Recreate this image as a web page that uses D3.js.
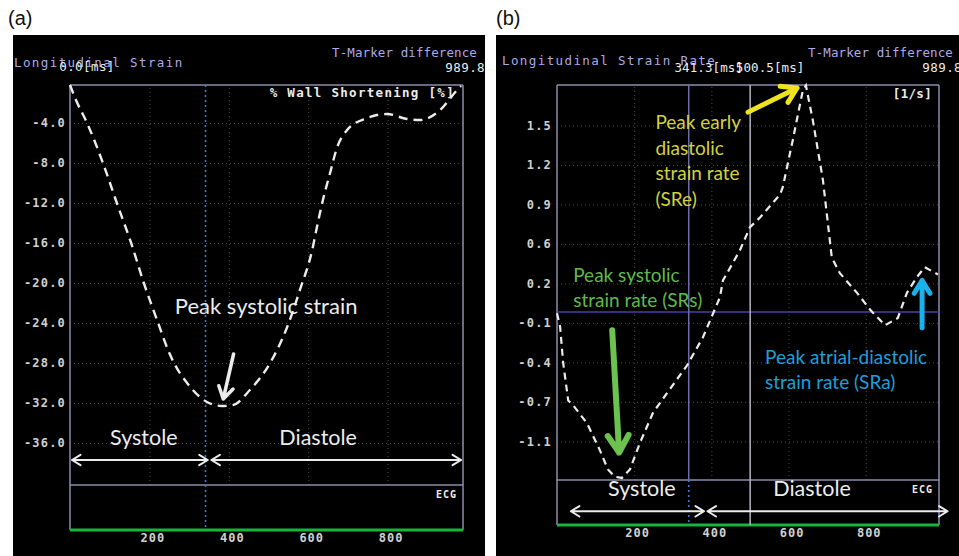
<!DOCTYPE html>
<html>
<head>
<meta charset="utf-8">
<script src="https://cdn.jsdelivr.net/npm/d3@7"></script>
<style>
body { margin: 0; background: #fff; }
svg { display: block; }
.mono { font-family: "DejaVu Sans Mono", monospace; }
.note { font-family: Lato, "Open Sans", sans-serif; }
</style>
</head>
<body>
<svg id="fig" width="959" height="556"></svg>
<script>
// (a) longitudinal strain [%] over time [ms]
var strainTime  = [0, 15, 43, 83, 118, 154, 186, 222, 247, 262, 295, 345, 383, 411, 453, 504, 547, 579, 610, 622, 637, 655, 673, 698, 748, 798, 849, 882, 932, 975, 985]
var strainValue = [-0.2, -1.7, -4.0, -8.0, -12.0, -16.0, -20.0, -24.0, -26.7, -28.0, -30.0, -31.9, -32.3, -32.2, -30.7, -28.0, -24.4, -20.7, -16.7, -14.4, -11.7, -9.0, -6.4, -4.7, -3.5, -3.1, -3.6, -3.7, -2.7, -0.7, -0.3]
var strainTicks = [-4, -8, -12, -16, -20, -24, -28, -32, -36]
var strainTickLabels = ["-4.0", "-8.0", "-12.0", "-16.0", "-20.0", "-24.0", "-28.0", "-32.0", "-36.0"]

// (b) longitudinal strain rate [1/s] over time [ms]
var rateTime  = [0, 8, 16, 29, 42, 78, 111, 132, 150, 168, 189, 215, 249, 285, 337, 378, 422, 430, 474, 500, 526, 578, 585, 611, 637, 645, 663, 689, 712, 733, 777, 811, 850, 883, 907, 933, 953, 987]
var rateValue = [-0.01, -0.12, -0.42, -0.73, -0.77, -0.92, -1.14, -1.30, -1.36, -1.37, -1.30, -1.08, -0.83, -0.67, -0.44, -0.21, 0.12, 0.26, 0.51, 0.70, 0.78, 0.97, 1.03, 1.42, 1.83, 1.87, 1.58, 1.09, 0.45, 0.32, 0.16, 0.02, -0.11, -0.05, 0.16, 0.29, 0.37, 0.31]
var rateTicks = [1.54, 1.214, 0.888, 0.562, 0.236, -0.09, -0.416, -0.742, -1.068]
var rateTickLabels = ["1.5", "1.2", "0.9", "0.6", "0.2", "-0.1", "-0.4", "-0.7", "-1.1"]

var timeTicks = [200, 400, 600, 800]
var cycleLength = 989.8
var markerA = [0.0]
var markerB = [341.3, 500.5]

var FRAME = "#8c8cae", GRID = "#4a4a4a", WHITE = "#ececec"
var svg = d3.select("#fig")

svg.append("rect").attr("x", 13).attr("y", 35).attr("width", 472).attr("height", 521).attr("fill", "#000")
svg.append("rect").attr("x", 496).attr("y", 35).attr("width", 463).attr("height", 521).attr("fill", "#000")

svg.append("text").attr("x", 8).attr("y", 25).text("(a)")
  .style("font-family", "Liberation Sans, Arial, sans-serif").style("font-size", "20px").attr("fill", "#111")
svg.append("text").attr("x", 496).attr("y", 25).text("(b)")
  .style("font-family", "Liberation Sans, Arial, sans-serif").style("font-size", "20px").attr("fill", "#111")

// arrow with open chevron head(s)
function arrow(g, x1, y1, x2, y2, color, w, head, both) {
  var a = Math.atan2(y2 - y1, x2 - x1)
  var sp = 0.55
  function chev(x, y, ang) {
    return "M" + (x - head * Math.cos(ang - sp)) + "," + (y - head * Math.sin(ang - sp)) +
      "L" + x + "," + y +
      "L" + (x - head * Math.cos(ang + sp)) + "," + (y - head * Math.sin(ang + sp))
  }
  var d = "M" + x1 + "," + y1 + "L" + x2 + "," + y2 + chev(x2, y2, a)
  if (both) d += chev(x1, y1, a + Math.PI)
  g.append("path").attr("d", d).attr("fill", "none").attr("stroke", color)
    .attr("stroke-width", w).attr("stroke-linecap", "round").attr("stroke-linejoin", "round")
}

function monoText(g, x, y, txt, opts) {
  var t = g.append("text").attr("class", "mono").attr("x", x).attr("y", y).text(txt)
    .attr("fill", opts.color || WHITE)
    .style("font-size", (opts.size || 12) + "px")
    .style("font-weight", opts.bold ? "bold" : "normal")
    .style("letter-spacing", (opts.ls || 0) + "px")
    .attr("text-anchor", opts.anchor || "start")
  return t
}

function drawPanel(p) {
  var g = svg.append("g")
  var x = p.x, y = p.y
  var L = x.range()[0], R = x.range()[1]

  // grid
  g.append("g").attr("transform", "translate(0," + p.ecgBottom + ")")
    .call(d3.axisBottom(x).tickValues(timeTicks).tickSize(-(p.ecgBottom - p.top)).tickFormat(""))
    .call(s => s.select(".domain").remove())
    .selectAll("line").attr("stroke", GRID).attr("stroke-dasharray", "1,3")
  g.append("g").attr("transform", "translate(" + L + ",0)")
    .call(d3.axisLeft(y).tickValues(p.ticks).tickSize(-(R - L)).tickFormat(""))
    .call(s => s.select(".domain").remove())
    .selectAll("line").attr("stroke", GRID).attr("stroke-dasharray", "1,3")

  // y labels
  var ya = g.append("g").attr("transform", "translate(" + L + ",0)")
    .call(d3.axisLeft(y).tickValues(p.ticks).tickSize(0).tickPadding(p.pad)
      .tickFormat((d, i) => p.labels[i]))
  ya.select(".domain").remove()
  ya.selectAll("text").attr("class", "mono").attr("fill", "#d0d0d0")
    .style("font-size", "12px").style("font-weight", "bold").style("letter-spacing", "1.2px")

  // x labels
  var xa = g.append("g").attr("transform", "translate(3," + p.green + ")")
    .call(d3.axisBottom(x).tickValues(timeTicks).tickSize(0).tickPadding(3))
  xa.select(".domain").remove()
  xa.selectAll("text").attr("class", "mono").attr("fill", "#d0d0d0")
    .style("font-size", "12px").style("font-weight", "bold").style("letter-spacing", "1px")

  // frame
  g.append("line").attr("x1", L).attr("x2", R).attr("y1", p.top).attr("y2", p.top).attr("stroke", FRAME).attr("stroke-width", 1.5)
  g.append("line").attr("x1", L).attr("x2", R).attr("y1", p.ecgBottom).attr("y2", p.ecgBottom).attr("stroke", FRAME).attr("stroke-width", 1.5)
  g.append("line").attr("x1", L).attr("x2", L).attr("y1", p.top).attr("y2", p.green).attr("stroke", FRAME).attr("stroke-width", 1.5)
  g.append("line").attr("x1", R).attr("x2", R).attr("y1", p.top).attr("y2", p.green).attr("stroke", FRAME).attr("stroke-width", 1.5)
  g.append("line").attr("x1", L).attr("x2", R).attr("y1", p.green).attr("y2", p.green).attr("stroke", "#19b43c").attr("stroke-width", 3)

  monoText(g, R - 6, p.ecgBottom + 13, "ECG", { size: 10, bold: true, anchor: "end", ls: 1 })
  return g
}

function bigNote(g, x, y, txt, size) {
  g.append("text").attr("class", "note").attr("x", x).attr("y", y).attr("text-anchor", "middle")
    .text(txt).attr("fill", WHITE).style("font-size", size + "px")
}

// ---------- panel (a)
var xA = d3.scaleLinear().domain([0, cycleLength]).range([70, 463])
var yA = d3.scaleLinear().domain([0, -40.2]).range([83, 485])
var gA = drawPanel({ x: xA, y: yA, ticks: strainTicks, labels: strainTickLabels, top: 85, ecgBottom: 485, green: 530, pad: 4 })

gA.append("line").attr("x1", xA(markerB[0])).attr("x2", xA(markerB[0])).attr("y1", 85).attr("y2", 530)
  .attr("stroke", "#3d78d8").attr("stroke-width", 1.6).attr("stroke-dasharray", "2,3")

monoText(gA, 14, 67, "Longitudinal Strain", { color: "#ada8ea", size: 12.5, ls: 1.4 })
monoText(gA, 87, 71, markerA[0].toFixed(1) + "[ms]", { size: 12.5, anchor: "middle", ls: 0.4 })
monoText(gA, 477, 57, "T-Marker difference", { color: "#ada8ea", size: 12.5, anchor: "end", ls: 0.1 })
monoText(gA, 485, 72, cycleLength.toFixed(1), { size: 12.5, anchor: "end", ls: 0.4 })
monoText(gA, 455, 97, "% Wall Shortening [%]", { size: 12.5, bold: true, anchor: "end", ls: 1.3 })

gA.append("path").datum(d3.range(strainTime.length))
  .attr("d", d3.line().x(i => xA(strainTime[i])).y(i => yA(strainValue[i])).curve(d3.curveMonotoneX))
  .attr("fill", "none").attr("stroke", WHITE).attr("stroke-width", 2.4).attr("stroke-dasharray", "9,6")

bigNote(gA, xA(494), yA(-23.1), "Peak systolic strain", 22)
arrow(gA, xA(412), yA(-27.1), xA(386), yA(-31.6), WHITE, 3.5, 14, false)

bigNote(gA, xA(186), yA(-36.2), "Systole", 21.5)
bigNote(gA, xA(625), yA(-36.2), "Diastole", 21.5)
arrow(gA, xA(5), yA(-37.7), xA(347), yA(-37.7), WHITE, 2, 10, true)
arrow(gA, xA(356), yA(-37.7), xA(985), yA(-37.7), WHITE, 2, 10, true)

// ---------- panel (b)
var xB = d3.scaleLinear().domain([0, cycleLength]).range([557, 939])
var yB = d3.scaleLinear().domain([1.874, -1.387]).range([85, 480])
var gB = drawPanel({ x: xB, y: yB, ticks: rateTicks, labels: rateTickLabels, top: 85, ecgBottom: 480, green: 525, pad: 5 })

gB.append("line").attr("x1", xB(0)).attr("x2", xB(cycleLength)).attr("y1", yB(0)).attr("y2", yB(0))
  .attr("stroke", "#4a3fa6").attr("stroke-width", 1.5)
gB.append("line").attr("x1", xB(markerB[0])).attr("x2", xB(markerB[0])).attr("y1", 85).attr("y2", 480)
  .attr("stroke", "#6e6ea6").attr("stroke-width", 1.5)
gB.append("line").attr("x1", xB(markerB[0])).attr("x2", xB(markerB[0])).attr("y1", 480).attr("y2", 525)
  .attr("stroke", "#3d78d8").attr("stroke-width", 1.6).attr("stroke-dasharray", "2,3")
gB.append("line").attr("x1", xB(markerB[1])).attr("x2", xB(markerB[1])).attr("y1", 85).attr("y2", 525)
  .attr("stroke", "#b4b4c4").attr("stroke-width", 1.5)

monoText(gB, 502, 65, "Longitudinal Strain Rate", { color: "#ada8ea", size: 12.5, ls: 1.4 })
markerB.forEach(function (m) {
  monoText(gB, xB(m) + 20, 72, m.toFixed(1) + "[ms]", { size: 12.5, anchor: "middle", ls: 0.1 })
})
monoText(gB, 953, 57, "T-Marker difference", { color: "#ada8ea", size: 12.5, anchor: "end", ls: 0.1 })
monoText(gB, 962, 72, cycleLength.toFixed(1), { size: 12.5, anchor: "end", ls: 0.4 })
monoText(gB, 932, 98, "[1/s]", { size: 12.5, bold: true, anchor: "end", ls: 0.3 })

gB.append("path").datum(d3.range(rateTime.length))
  .attr("d", d3.line().x(i => xB(rateTime[i])).y(i => yB(rateValue[i])))
  .attr("fill", "none").attr("stroke", WHITE).attr("stroke-width", 2.2).attr("stroke-dasharray", "7,5")

function noteLines(g, lines, x, y0, step, color) {
  lines.forEach(function (s, i) {
    g.append("text").attr("class", "note").attr("x", x).attr("y", y0 + i * step)
      .text(s).attr("fill", color).style("font-size", "19px")
  })
}
noteLines(gB, ["Peak early", "diastolic", "strain rate", "(SRe)"], xB(255), yB(1.51), 25.7, "#d2d23c")
arrow(gB, xB(495), yB(1.65), xB(622), yB(1.85), "#eee31c", 5, 17, false)

noteLines(gB, ["Peak systolic", "strain rate (SRs)"], xB(42), yB(0.25), 25.5, "#5fba4a")
arrow(gB, xB(143), yB(-0.15), xB(161), yB(-1.16), "#6cc24c", 6, 20, false)

noteLines(gB, ["Peak atrial-diastolic", "strain rate (SRa)"], xB(539), yB(-0.43), 25, "#1c9fdb")
arrow(gB, xB(946), yB(-0.13), xB(946), yB(0.26), "#19b2ec", 5, 15, false)

bigNote(gB, xB(220), yB(-1.52), "Systole", 21.5)
bigNote(gB, xB(661), yB(-1.52), "Diastole", 21.5)
arrow(gB, xB(36), yB(-1.645), xB(381), yB(-1.645), WHITE, 2, 10, true)
arrow(gB, xB(390), yB(-1.645), xB(1012), yB(-1.645), WHITE, 2, 10, true)
</script>
</body>
</html>
